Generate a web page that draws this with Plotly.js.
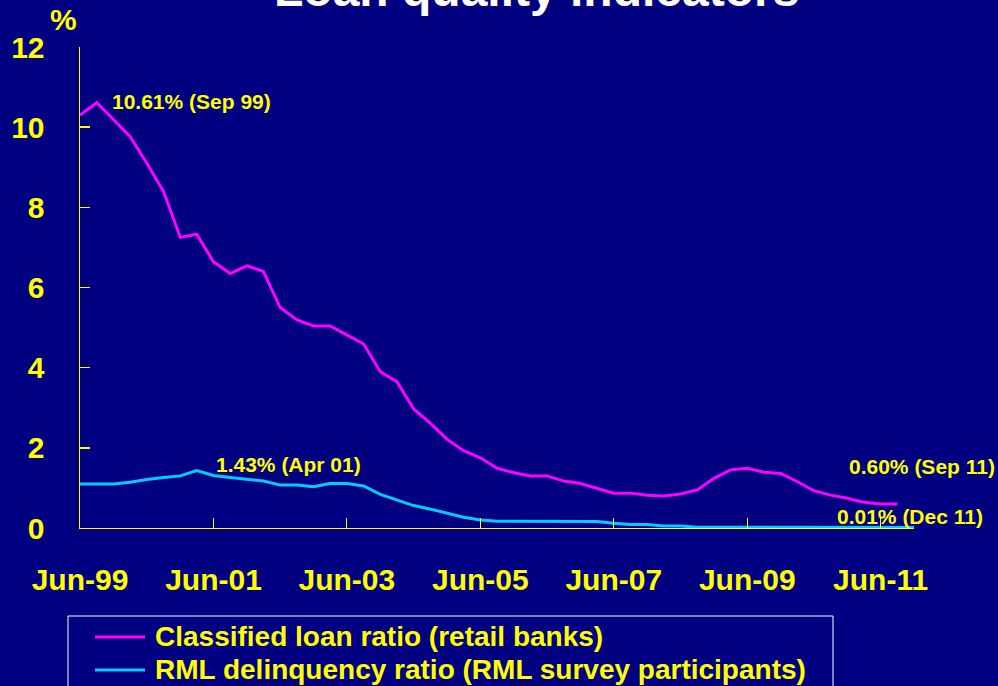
<!DOCTYPE html>
<html>
<head>
<meta charset="utf-8">
<script src="https://cdn.plot.ly/plotly-3.0.1.min.js"></script>
<style>
  html, body { margin: 0; padding: 0; background: #000080; }
  #chart { width: 998px; height: 686px; }
</style>
</head>
<body>
<div id="chart"></div>
<script>
// ---- Data (quarterly) ----
var quarters = [
  "1999-06-01","1999-09-01","1999-12-01",
  "2000-03-01","2000-06-01","2000-09-01","2000-12-01",
  "2001-03-01","2001-06-01","2001-09-01","2001-12-01",
  "2002-03-01","2002-06-01","2002-09-01","2002-12-01",
  "2003-03-01","2003-06-01","2003-09-01","2003-12-01",
  "2004-03-01","2004-06-01","2004-09-01","2004-12-01",
  "2005-03-01","2005-06-01","2005-09-01","2005-12-01",
  "2006-03-01","2006-06-01","2006-09-01","2006-12-01",
  "2007-03-01","2007-06-01","2007-09-01","2007-12-01",
  "2008-03-01","2008-06-01","2008-09-01","2008-12-01",
  "2009-03-01","2009-06-01","2009-09-01","2009-12-01",
  "2010-03-01","2010-06-01","2010-09-01","2010-12-01",
  "2011-03-01","2011-06-01","2011-09-01","2011-12-01"
];

var classifiedLoanRatio = [
  10.30, 10.61, 10.19,
  9.77, 9.10, 8.39, 7.25,
  7.33, 6.64, 6.35, 6.54,
  6.40, 5.50, 5.19, 5.04,
  5.04, 4.82, 4.59, 3.90,
  3.65, 2.97, 2.61, 2.21,
  1.93, 1.75, 1.49, 1.38,
  1.30, 1.30, 1.17, 1.11,
  0.99, 0.87, 0.87, 0.82,
  0.80, 0.85, 0.95, 1.24,
  1.45, 1.49, 1.39, 1.36,
  1.16, 0.93, 0.82, 0.74,
  0.64, 0.60, 0.60
];

var rmlDelinquencyRatio = [
  1.10, 1.10, 1.10,
  1.14, 1.21, 1.26, 1.30,
  1.43, 1.31, 1.26, 1.22,
  1.17, 1.07, 1.07, 1.03,
  1.11, 1.11, 1.05, 0.84,
  0.70, 0.56, 0.47, 0.36,
  0.27, 0.20, 0.17, 0.17,
  0.17, 0.17, 0.17, 0.17,
  0.16, 0.12, 0.09, 0.09,
  0.05, 0.05, 0.02, 0.02,
  0.02, 0.02, 0.02, 0.02,
  0.02, 0.02, 0.02, 0.01,
  0.01, 0.01, 0.01, 0.01
];

var tickDates  = ["1999-06-01","2001-06-01","2003-06-01","2005-06-01","2007-06-01","2009-06-01","2011-06-01"];
var tickLabels = ["Jun-99","Jun-01","Jun-03","Jun-05","Jun-07","Jun-09","Jun-11"];

var seriesNames = ["Classified loan ratio (retail banks)", "RML delinquency ratio (RML survey participants)"];
var seriesColors = ["#FF00FF", "#00CCFF"];

var labelTexts = ["10.61% (Sep 99)", "1.43% (Apr 01)", "0.60% (Sep 11)", "0.01% (Dec 11)"];

// ---- Layout helpers (pixel -> paper) ----
var W = 998, H = 686;
var M = {l: 80, r: 84, t: 47, b: 158};
var PW = W - M.l - M.r, PH = H - M.t - M.b;
function px(x) { return (x - M.l) / PW; }
function py(y) { return (H - M.b - y) / PH; }

var FONT = "Arial, 'Liberation Sans', Helvetica, sans-serif";
var YEL = "#FFFF00";

var traces = [
  {x: quarters.slice(0, classifiedLoanRatio.length), y: classifiedLoanRatio, type: "scatter", mode: "lines",
   name: seriesNames[0], line: {color: seriesColors[0], width: 3}, showlegend: false},
  {x: quarters.slice(0, rmlDelinquencyRatio.length), y: rmlDelinquencyRatio, type: "scatter", mode: "lines",
   name: seriesNames[1], line: {color: seriesColors[1], width: 3}, showlegend: false}
];

function ann(text, x, y, size, color, xanchor) {
  return {text: text, xref: "paper", yref: "paper", x: px(x), y: py(y),
          xanchor: xanchor || "left", yanchor: "middle", showarrow: false,
          font: {family: FONT, size: size, color: color, weight: "bold"}};
}

var annotations = [
  ann("Loan quality indicators", 536, -11, 48, "#FFFFFF", "center"),
  ann("%", 63, 20, 30, YEL, "center"),
  ann(labelTexts[0], 110, 101, 21, YEL),
  ann(labelTexts[1], 214, 465, 21, YEL),
  ann(labelTexts[2], 847, 466, 21, YEL),
  ann(labelTexts[3], 835, 516, 21, YEL),
  ann(seriesNames[0], 153, 636, 28, YEL),
  ann(seriesNames[1], 153, 669, 28, YEL)
];

var shapes = [
  {type: "rect", xref: "paper", yref: "paper", x0: px(68), x1: px(833), y0: py(616), y1: py(720),
   line: {color: "#FFFFFF", width: 1}, fillcolor: "rgba(0,0,0,0)"},
  {type: "line", xref: "paper", yref: "paper", x0: px(95), x1: px(145), y0: py(637), y1: py(637),
   line: {color: seriesColors[0], width: 3}},
  {type: "line", xref: "paper", yref: "paper", x0: px(95), x1: px(145), y0: py(670), y1: py(670),
   line: {color: seriesColors[1], width: 3}}
];

var layout = {
  width: W, height: H,
  margin: M,
  paper_bgcolor: "#000080",
  plot_bgcolor: "#000080",
  showlegend: false,
  xaxis: {
    type: "date",
    range: ["1999-06-01", "2011-12-01"],
    tickmode: "array", tickvals: tickDates, ticktext: tickLabels,
    ticks: "inside", ticklen: 10, tickwidth: 1, tickcolor: YEL,
    showline: true, linecolor: YEL, linewidth: 1,
    showgrid: false, zeroline: false,
    ticklabelstandoff: 25,
    tickfont: {family: FONT, size: 30, color: YEL, weight: "bold"}
  },
  yaxis: {
    range: [0, 12], dtick: 2, tick0: 0,
    ticks: "inside", ticklen: 10, tickwidth: 1.5, tickcolor: YEL,
    showline: true, linecolor: YEL, linewidth: 1.5,
    showgrid: false, zeroline: false,
    ticklabelstandoff: 28,
    tickfont: {family: FONT, size: 30, color: YEL, weight: "bold"}
  },
  annotations: annotations,
  shapes: shapes
};

Plotly.newPlot("chart", traces, layout, {displayModeBar: false, staticPlot: true});
</script>
</body>
</html>
